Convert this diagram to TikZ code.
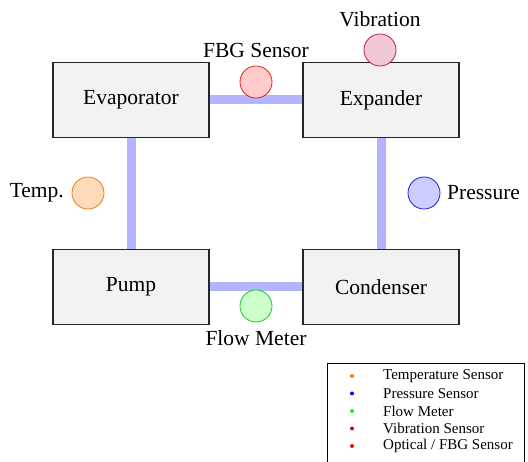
\documentclass[tikz,border=0pt]{standalone}
\usepackage{fontspec}
\setmainfont{Liberation Serif}
\usetikzlibrary{backgrounds}
\definecolor{boxfill}{RGB}{242,242,242}
\definecolor{pipe}{RGB}{179,179,255}
\definecolor{tempc}{RGB}{230,130,30}
\definecolor{tempf}{RGB}{255,218,185}
\definecolor{presc}{RGB}{30,30,230}
\definecolor{presf}{RGB}{204,204,255}
\definecolor{flowc}{RGB}{30,200,30}
\definecolor{flowf}{RGB}{204,255,204}
\definecolor{vibc}{RGB}{190,30,80}
\definecolor{vibf}{RGB}{242,200,212}
\definecolor{fbgc}{RGB}{230,30,30}
\definecolor{fbgf}{RGB}{255,204,204}
\tikzset{
  comp/.style={draw=black!85, line width=1.2pt, fill=boxfill, minimum width=156pt, minimum height=75pt, inner sep=0pt, font=\fontsize{21.5}{24}\selectfont},
  pipeline/.style={draw=pipe, line width=9pt},
  sensor/.style={circle, draw=#1c, fill=#1f, line width=0.8pt, minimum size=32pt, inner sep=0pt},
  lbl/.style={font=\fontsize{21.5}{24}\selectfont, inner sep=0pt},
  legtext/.style={font=\fontsize{15}{17}\selectfont, anchor=west, inner sep=0pt},
  legdot/.style={circle, fill=#1, minimum size=4pt, inner sep=0pt},
}
\begin{document}
\begin{tikzpicture}[x=1pt,y=-1pt]
\useasboundingbox (0,0) rectangle (528,462);
\node[comp] (evap) at (131,100) {Evaporator};
\node[comp] (exp) at (381,100) {Expander};
\node[comp] (pump) at (131,287) {Pump};
\node[comp] (cond) at (381,287) {Condenser};
\begin{scope}[on background layer]
\draw[pipeline] (evap.east) -- (exp.west);
\draw[pipeline] (evap.south) -- (pump.north);
\draw[pipeline] (exp.south) -- (cond.north);
\draw[pipeline] (pump.east) -- (cond.west);
\end{scope}
\node[sensor=fbg] (fbg) at (256,82) {};
\node[lbl] (fbgl) at (256,50) {FBG Sensor};
\node[sensor=vib] (vib) at (380,50) {};
\node[lbl] (vibl) at (380,19) {Vibration};
\node[sensor=pres] (pres) at (424,193) {};
\node[lbl, anchor=west] (presl) at (447,193) {Pressure};
\node[sensor=temp] (temp) at (88,193) {};
\node[lbl, anchor=east] (templ) at (64,193) {Temp.};
\node[sensor=flow] (flow) at (256,306) {};
\node[lbl] (flowl) at (256,338) {Flow Meter};
% legend
\draw[black, line width=0.8pt] (327,470) -- (327,363) -- (524,363) -- (524,470);
\node[legdot=orange] (d1) at (352,376) {};
\node[legtext] (t1) at (383,376) {Temperature Sensor};
\node[legdot=blue] (d2) at (352,393.5) {};
\node[legtext] (t2) at (383,393.5) {Pressure Sensor};
\node[legdot=green] (d3) at (352,411) {};
\node[legtext] (t3) at (383,411) {Flow Meter};
\node[legdot=purple!80!red] (d4) at (352,428.5) {};
\node[legtext] (t4) at (383,428.5) {Vibration Sensor};
\node[legdot=red] (d5) at (352,446) {};
\node[legtext] (t5) at (383,446) {Optical / FBG Sensor};
\end{tikzpicture}
\end{document}
